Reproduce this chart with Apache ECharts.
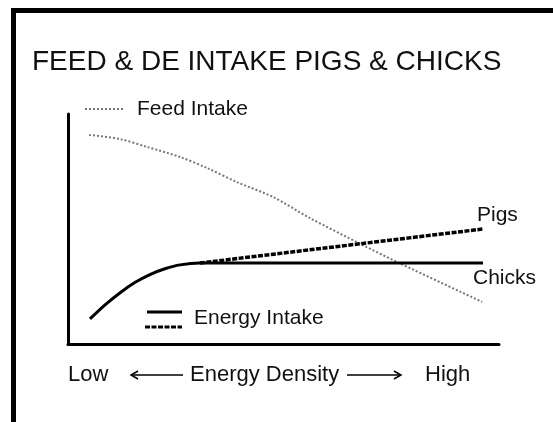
<!DOCTYPE html>
<html><head><meta charset="utf-8">
<script src="https://cdn.jsdelivr.net/npm/echarts@6/dist/echarts.min.js"></script>
<style>html,body{margin:0;padding:0;background:#fff}#c{width:553px;height:422px}</style>
</head><body><div id="c"></div>
<script>
const title = 'FEED & DE INTAKE PIGS & CHICKS';
const feedX = [4.9, 12.1, 18.3, 26.0, 32.3, 39.2, 47.6, 56.1, 68.4, 76.3, 96.1];
const feedY = [90.9, 89.1, 85.7, 81.3, 76.5, 70.4, 63.9, 54.8, 43.0, 35.7, 18.3];
const chickX = [5.1, 8.6, 12.1, 15.5, 19.0, 22.5, 26.0, 30.6, 96.3];
const chickY = [10.9, 17.0, 22.3, 26.7, 30.2, 32.7, 34.4, 35.2, 35.2];
const pigX = [30.6, 96.3];
const pigY = [35.2, 50.0];
const labels = {feed: 'Feed Intake', energy: 'Energy Intake', pigs: 'Pigs', chicks: 'Chicks', low: 'Low', axis: 'Energy Density', high: 'High'};

const zip = (xs, ys) => xs.map((x, i) => [x, ys[i]]);
const FONT = '"Liberation Sans", Arial, sans-serif';
const txt = (x, y, s, size) => ({type: 'text', x: x, y: y, style: {text: s, font: size + 'px ' + FONT, fill: '#111', textVerticalAlign: 'middle'}});
const ln = (x1, y1, x2, y2, w, dash, col) => ({type: 'line', shape: {x1, y1, x2, y2}, style: {stroke: col || '#000', lineWidth: w, lineDash: dash || null}});

const chart = echarts.init(document.getElementById('c'));
chart.setOption({
  animation: false,
  backgroundColor: '#fff',
  grid: {left: 68, right: 54, top: 114, bottom: 78},
  xAxis: {type: 'value', min: 0, max: 100, axisLine: {show: true, lineStyle: {color: '#000', width: 3}}, axisTick: {show: false}, axisLabel: {show: false}, splitLine: {show: false}},
  yAxis: {type: 'value', min: 0, max: 100, axisLine: {show: true, lineStyle: {color: '#000', width: 3}}, axisTick: {show: false}, axisLabel: {show: false}, splitLine: {show: false}},
  series: [
    {type: 'line', data: zip(feedX, feedY), smooth: 0.3, symbol: 'none', lineStyle: {color: '#777', width: 2, type: [2, 2]}},
    {type: 'line', data: zip(pigX, pigY), symbol: 'none', lineStyle: {color: '#000', width: 3.5, type: [5, 1.5]}},
    {type: 'line', data: zip(chickX, chickY), smooth: 0.3, symbol: 'none', lineStyle: {color: '#000', width: 3}}
  ],
  graphic: [
    {type: 'rect', shape: {x: 13.5, y: 10.5, width: 620, height: 520}, style: {fill: 'none', stroke: '#000', lineWidth: 5}},
    txt(32, 62, title, 28),
    ln(85, 109, 123, 109, 2, [2, 2], '#777'),
    txt(137, 109, labels.feed, 21),
    ln(147, 312, 182, 312, 3),
    ln(145, 327, 182, 327, 3, [5, 1.5]),
    txt(194, 318, labels.energy, 21),
    txt(477, 215, labels.pigs, 21),
    txt(473, 278, labels.chicks, 21),
    txt(68, 375, labels.low, 22),
    txt(190, 375, labels.axis, 22),
    txt(425, 375, labels.high, 22),
    ln(131, 375, 183, 375, 1.5),
    {type: 'polyline', shape: {points: [[138, 371], [131, 375], [138, 379]]}, style: {stroke: '#000', fill: 'none', lineWidth: 1.5}},
    ln(347, 375, 401, 375, 1.5),
    {type: 'polyline', shape: {points: [[394, 371], [401, 375], [394, 379]]}, style: {stroke: '#000', fill: 'none', lineWidth: 1.5}}
  ]
});
</script></body></html>
